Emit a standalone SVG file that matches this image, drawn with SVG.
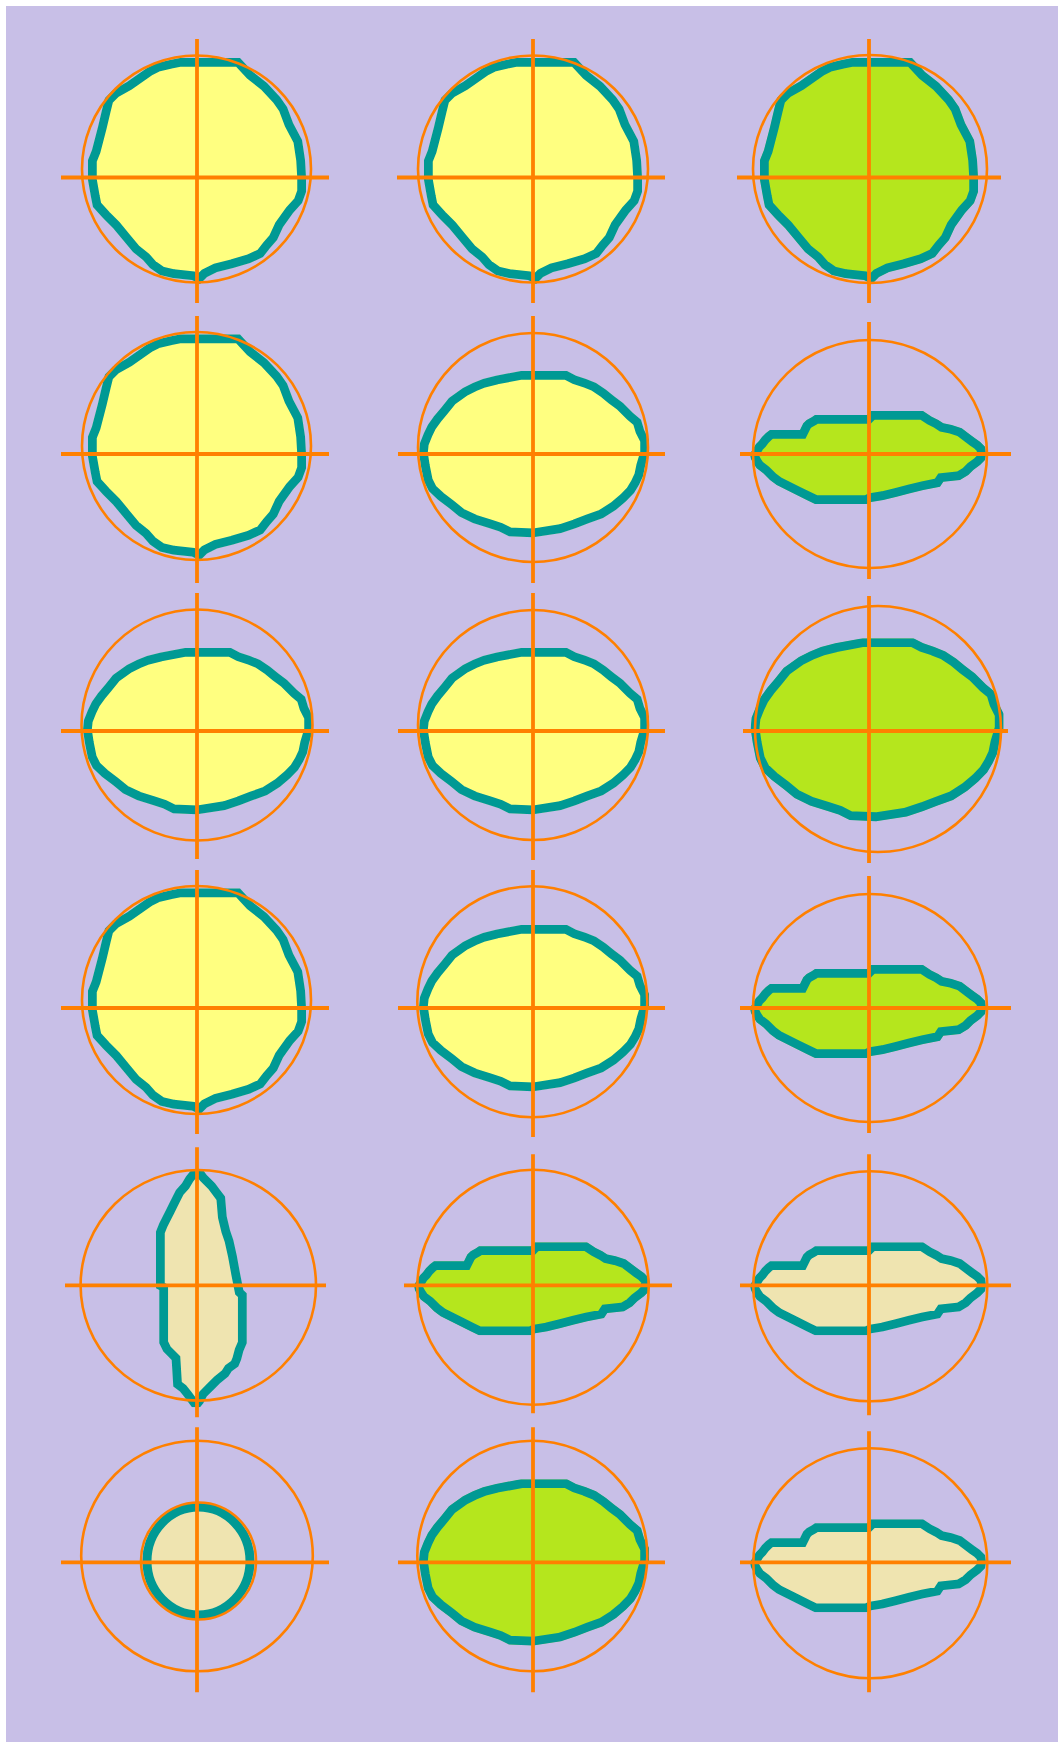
<svg xmlns="http://www.w3.org/2000/svg" xmlns:xlink="http://www.w3.org/1999/xlink" width="1058" height="1742" viewBox="0 0 1058 1742">
<style>
.blob{stroke:#009994;stroke-width:17.5;stroke-linejoin:miter}
.big{stroke-width:16}
.yel{fill:#ffff80}
.grn{fill:#b5e61d}
.bei{fill:#efe4b0}
.ring{fill:none;stroke:#ff8000;stroke-width:2.6}
.cross{stroke:#ff8000;stroke-width:3.8;fill:none}
</style>
<defs>
<path id="pA" d="M-17,-119.5 L43,-119.5 L56,-105.5 L70,-94.5 L83,-80.5 L90,-70.5 L96,-54.5 L105,-37.5 L108,-17.5 L109,0 L109,14.5 L105,25.5 L96,35.5 L86,49.5 L80,62.5 L73,70.5 L66,79.5 L53,85.5 L36,90.5 L20,94.5 L10,99.5 L3,106.5 L-5,102.5 L-24,100.5 L-37,97.5 L-47,90.5 L-54,82.5 L-64,74.5 L-74,62.5 L-84,50.5 L-94,40.5 L-104,29.5 L-106,19.5 L-109,2.5 L-109,-17.5 L-105,-27.5 L-99,-50.5 L-95,-67.5 L-92,-79.5 L-84,-87.5 L-70,-95.5 L-60,-102.5 L-50,-109.5 L-40,-114.5 L-27,-117.5 Z"/>
<path id="pB" d="M-12,-83 L34,-83 L43,-78.3 L53,-75 L63,-71 L73,-64.3 L81,-57.7 L90,-51 L100,-41 L108,-34.3 L111,-24.3 L116,-14.3 L116,-1 L112,12.3 L110,22.3 L106,30.7 L101,39 L93,47.3 L83,55.7 L70,64 L56,69 L43,74 L28,79 L0,83.3 L-24,82.3 L-34,77.3 L-44,74 L-60,69 L-74,62.3 L-84,54 L-95,45.7 L-104,37.3 L-109,27.3 L-112,12.3 L-114,-1 L-113,-11 L-109,-21 L-105,-29.3 L-99,-37.7 L-92,-46 L-84,-56 L-70,-66 L-60,-71 L-50,-75 L-37,-78.3 Z"/>
<path id="pC" d="M2,-43 L54,-43 L62.7,-37.3 L69.3,-34 L74.3,-30.7 L82.7,-29 L92.7,-25.7 L99.3,-20.7 L106,-15.7 L111,-12.3 L116,-7.3 L117,0 L116,6 L111,11 L104.3,16 L99.3,21 L91,26 L74.3,27.7 L71,32.7 L54.3,36 L41,39.3 L27.7,42.7 L14.3,46 L2,48 L-2,50 L-54,50 L-62.3,46 L-72.3,41 L-82.3,36 L-92.3,31 L-99,26 L-105.7,19.3 L-112.3,14.3 L-115.7,9.3 L-118,5 L-119,0 L-116,-5 L-113,-10 L-110,-13 L-107,-17 L-103,-21 L-99,-24 L-69,-24 L-65.7,-30.7 L-62.3,-34 L-57.3,-36.7 L-54,-39 L-2,-39 Z"/>
<path id="pD" d="M-5,-115.3 L6,-115.3 L9.7,-110.3 L18,-102 L23,-95.3 L28,-88.7 L29.7,-68.7 L33,-55 L36.3,-45.3 L39.7,-30 L43,-12 L46.3,4.7 L49.7,8 L49.7,58 L46.3,66 L44,74.7 L41.3,81.3 L34.7,86 L31.3,91.3 L23,98 L16.3,104.7 L9.7,111.3 L6.3,118 L3,122 L-5,122 L-8,118 L-13,111.3 L-17,106.3 L-23.7,101.3 L-25.3,74.7 L-28.7,71.3 L-33.7,66.3 L-37.7,58 L-37.7,4.7 L-41,3 L-41,-53.7 L-37.7,-62 L-34.3,-68.7 L-31,-75.3 L-27.7,-82 L-24.3,-88.7 L-21,-95.3 L-15,-102 L-11,-108.7 L-7,-113.7 Z"/>
<clipPath id="cA"><use xlink:href="#pA"/></clipPath>
<clipPath id="cB"><use xlink:href="#pB"/></clipPath>
<clipPath id="cC"><use xlink:href="#pC"/></clipPath>
<clipPath id="cD"><use xlink:href="#pD"/></clipPath>
</defs>
<rect x="0" y="0" width="1058" height="1742" fill="#ffffff"/>
<rect x="6" y="6" width="1052" height="1736" fill="#c8bfe7"/>

<g id="cell-0-0" transform="translate(197,177.5)">
<use xlink:href="#pA" class="blob yel" clip-path="url(#cA)"/>
<ellipse class="ring" cx="-0.5" cy="-8.5" rx="114.5" ry="113.5"/>
<path class="cross" d="M0,-138.5V125.5M-136,0H132"/>
</g>
<g id="cell-0-1" transform="translate(533,177.5)">
<use xlink:href="#pA" class="blob yel" clip-path="url(#cA)"/>
<ellipse class="ring" cx="0" cy="-8.5" rx="115" ry="113.5"/>
<path class="cross" d="M0,-138.5V125.5M-136,0H132"/>
</g>
<g id="cell-0-2" transform="translate(869,177.5)">
<use xlink:href="#pA" class="blob grn" clip-path="url(#cA)"/>
<ellipse class="ring" cx="1" cy="-8.5" rx="117" ry="114"/>
<path class="cross" d="M0,-138.5V125.5M-132,0H132"/>
</g>

<g id="cell-1-0" transform="translate(197,454)">
<use xlink:href="#pA" class="blob yel" clip-path="url(#cA)"/>
<ellipse class="ring" cx="-0.5" cy="-8" rx="114.5" ry="114"/>
<path class="cross" d="M0,-138V129M-136,0H132"/>
</g>
<g id="cell-1-1" transform="translate(533,454)">
<use xlink:href="#pB" class="blob yel" clip-path="url(#cB)"/>
<ellipse class="ring" cx="0" cy="-6.5" rx="115" ry="114.5"/>
<path class="cross" d="M0,-138V129M-135,0H132"/>
</g>
<g id="cell-1-2" transform="translate(869,454)">
<use xlink:href="#pC" class="blob grn" clip-path="url(#cC)"/>
<ellipse class="ring" cx="1" cy="0" rx="117" ry="114"/>
<path class="cross" d="M0,-132V125M-129,0H142"/>
</g>

<g id="cell-2-0" transform="translate(197,731)">
<use xlink:href="#pB" class="blob yel" clip-path="url(#cB)"/>
<ellipse class="ring" cx="0" cy="-6" rx="115.5" ry="115.5"/>
<path class="cross" d="M0,-138V128M-136,0H132"/>
</g>
<g id="cell-2-1" transform="translate(533,731)">
<use xlink:href="#pB" class="blob yel" clip-path="url(#cB)"/>
<ellipse class="ring" cx="0" cy="-6" rx="115" ry="115"/>
<path class="cross" d="M0,-138V129M-135,0H132"/>
</g>
<g id="cell-2-2" transform="translate(869,731)">
<g transform="translate(7,-1.5) scale(1.1)">
<use xlink:href="#pB" class="blob big grn" clip-path="url(#cB)"/>
</g>
<ellipse class="ring" cx="9" cy="-2" rx="123" ry="123"/>
<path class="cross" d="M0,-135V132M-126,0H139"/>
</g>

<g id="cell-3-0" transform="translate(197,1008)">
<use xlink:href="#pA" class="blob yel" clip-path="url(#cA)"/>
<ellipse class="ring" cx="-0.5" cy="-8" rx="114.5" ry="114"/>
<path class="cross" d="M0,-138V126M-136,0H132"/>
</g>
<g id="cell-3-1" transform="translate(533,1008)">
<use xlink:href="#pB" class="blob yel" clip-path="url(#cB)"/>
<ellipse class="ring" cx="-0.7" cy="-6.3" rx="115" ry="115.5"/>
<path class="cross" d="M0,-138V129M-135,0H132"/>
</g>
<g id="cell-3-2" transform="translate(869,1008)">
<use xlink:href="#pC" class="blob grn" clip-path="url(#cC)"/>
<ellipse class="ring" cx="1" cy="0" rx="117" ry="114"/>
<path class="cross" d="M0,-132V125M-129,0H142"/>
</g>

<g id="cell-4-0" transform="translate(197,1285.3)">
<use xlink:href="#pD" class="blob bei" clip-path="url(#cD)"/>
<ellipse class="ring" cx="1.3" cy="0" rx="117.7" ry="115.3"/>
<path class="cross" d="M0,-138V132M-132,0H129"/>
</g>
<g id="cell-4-1" transform="translate(533,1285.3)">
<use xlink:href="#pC" class="blob grn" clip-path="url(#cC)"/>
<ellipse class="ring" cx="0" cy="2" rx="115.7" ry="117.5"/>
<path class="cross" d="M0,-131V128M-129,0H139"/>
</g>
<g id="cell-4-2" transform="translate(869,1285.3)">
<use xlink:href="#pC" class="blob bei" clip-path="url(#cC)"/>
<ellipse class="ring" cx="1.3" cy="1" rx="117" ry="115"/>
<path class="cross" d="M0,-131V130M-129,0H142"/>
</g>

<g id="cell-5-0" transform="translate(197,1562.3)">
<ellipse cx="1.5" cy="-1.3" rx="51.5" ry="54" fill="#efe4b0" stroke="#009994" stroke-width="9"/>
<ellipse class="ring" cx="1.5" cy="-1.3" rx="57.5" ry="58.5"/>
<ellipse class="ring" cx="0" cy="-6.3" rx="115.8" ry="115.3"/>
<path class="cross" d="M0,-135V130M-136,0H132"/>
</g>
<g id="cell-5-1" transform="translate(533,1562.3)">
<use xlink:href="#pB" class="blob grn" clip-path="url(#cB)"/>
<ellipse class="ring" cx="-0.7" cy="-6.3" rx="115" ry="115.3"/>
<path class="cross" d="M0,-135V130M-135,0H132"/>
</g>
<g id="cell-5-2" transform="translate(869,1562.3)">
<use xlink:href="#pC" class="blob bei" clip-path="url(#cC)"/>
<ellipse class="ring" cx="1.3" cy="1" rx="117" ry="115"/>
<path class="cross" d="M0,-131V130M-129,0H142"/>
</g>
</svg>
